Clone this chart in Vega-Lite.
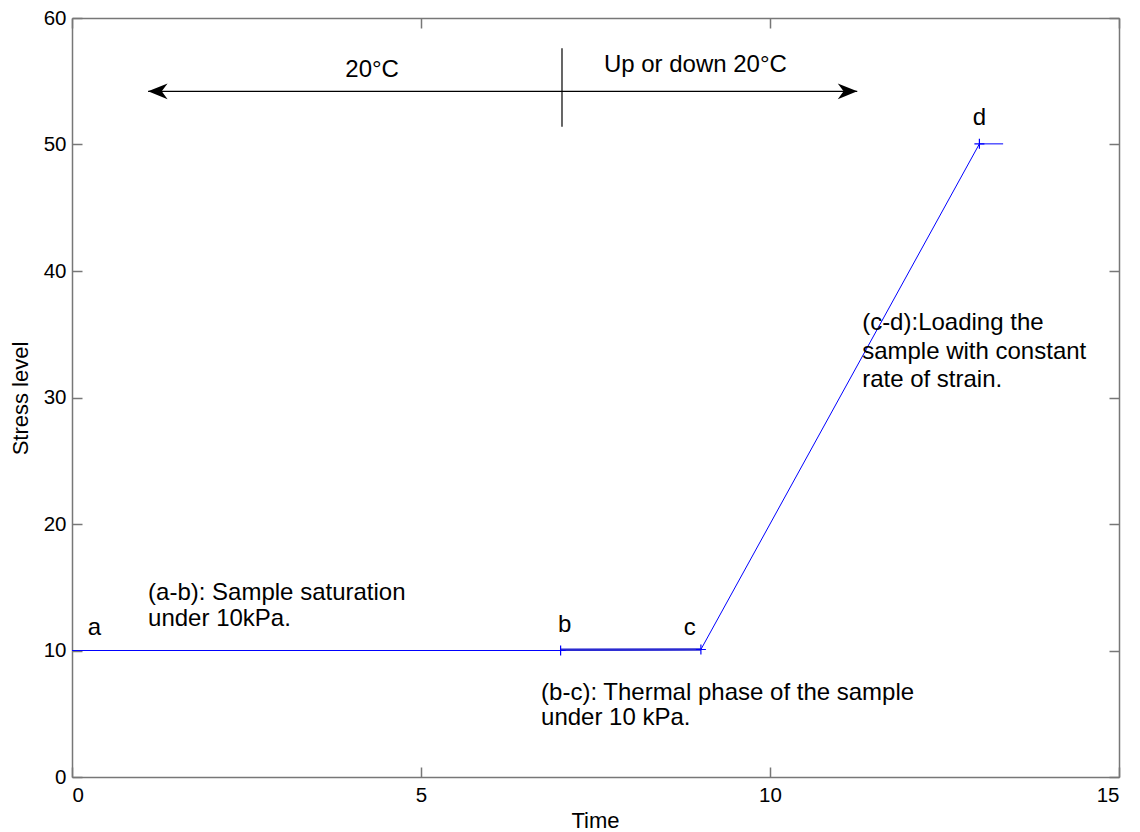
{
  "$schema": "https://vega.github.io/schema/vega-lite/v6.json",
  "autosize": {"type": "none"},
  "width": 1047,
  "height": 759,
  "padding": {"left": 72, "top": 18, "right": 21, "bottom": 55},
  "background": "white",
  "config": {
    "view": {"stroke": null},
    "axis": {
      "domainColor": "#777777",
      "tickColor": "#777777",
      "domainWidth": 1.5,
      "tickWidth": 1.5,
      "tickSize": -10,
      "grid": false,
      "labelFont": "Liberation Sans",
      "labelFontSize": 20.5,
      "labelColor": "black",
      "titleFont": "Liberation Sans",
      "titleFontSize": 22,
      "titleFontWeight": "normal",
      "titleColor": "black"
    },
    "text": {"font": "Liberation Sans", "fontSize": 24, "color": "black"}
  },
  "datasets": {
    "curve": [
      {"t": 0, "s": 10},
      {"t": 7, "s": 10},
      {"t": 9.01, "s": 10.08},
      {"t": 13.0, "s": 50.05},
      {"t": 13.34, "s": 50.05}
    ],
    "thermal": [
      {"t": 7, "s": 10.05},
      {"t": 9.01, "s": 10.08}
    ],
    "markers": [
      {"t": 7, "s": 10},
      {"t": 9.01, "s": 10.08},
      {"t": 13.0, "s": 50.05}
    ],
    "arrow": [{"x1": 1.09, "x2": 11.25, "y": 54.2}],
    "heads": [
      {"x": 1.09, "y": 54.2, "dir": "left"},
      {"x": 11.25, "y": 54.2, "dir": "right"}
    ],
    "divider": [{"x": 7.02, "y1": 51.4, "y2": 57.6}],
    "leftText": [
      {"x": 1.09, "y": 14.55, "label": "(a-b): Sample saturation"},
      {"x": 1.09, "y": 12.5, "label": "under 10kPa."},
      {"x": 6.72, "y": 6.64, "label": "(b-c): Thermal phase of the sample"},
      {"x": 6.72, "y": 4.66, "label": "under 10 kPa."},
      {"x": 11.32, "y": 35.9, "label": "(c-d):Loading the"},
      {"x": 11.32, "y": 33.6, "label": "sample with constant"},
      {"x": 11.32, "y": 31.4, "label": "rate of strain."},
      {"x": 7.62, "y": 56.3, "label": "Up or down 20°C"}
    ],
    "centerText": [
      {"x": 0.32, "y": 11.75, "label": "a"},
      {"x": 7.06, "y": 12.05, "label": "b"},
      {"x": 8.85, "y": 11.75, "label": "c"},
      {"x": 13.0, "y": 52.1, "label": "d"},
      {"x": 4.3, "y": 55.9, "label": "20°C"}
    ]
  },
  "resolve": {"axis": {"x": "independent", "y": "independent"}},
  "layer": [
    {
      "data": {"name": "curve"},
      "mark": {"type": "line", "color": "#0000ff", "strokeWidth": 1},
      "encoding": {
        "x": {"field": "t", "type": "quantitative", "scale": {"domain": [0, 15], "nice": false},
              "axis": {"title": "Time", "values": [0, 5, 10, 15], "labelPadding": 18, "titleX": 523, "titleY": 43, "titleBaseline": "middle"}},
        "y": {"field": "s", "type": "quantitative", "scale": {"domain": [0, 60], "nice": false},
              "axis": {"title": "Stress level", "values": [0, 10, 20, 30, 40, 50, 60], "labelPadding": 16, "titleX": -52, "titleY": 380, "titleBaseline": "middle"}}
      }
    },
    {
      "data": {"name": "thermal"},
      "mark": {"type": "line", "color": "#2a2ad0", "strokeWidth": 2.5},
      "encoding": {
        "x": {"field": "t", "type": "quantitative", "scale": {"domain": [0, 15], "nice": false}, "axis": null},
        "y": {"field": "s", "type": "quantitative", "scale": {"domain": [0, 60], "nice": false}, "axis": null}
      }
    },
    {
      "data": {"name": "markers"},
      "mark": {"type": "point", "shape": "M-1,0L1,0M0,-1L0,1", "filled": false, "color": "#0000ff", "strokeWidth": 1.2, "size": 100, "opacity": 1},
      "encoding": {
        "x": {"field": "t", "type": "quantitative", "scale": {"domain": [0, 15], "nice": false}, "axis": null},
        "y": {"field": "s", "type": "quantitative", "scale": {"domain": [0, 60], "nice": false}, "axis": null}
      }
    },
    {
      "data": {"name": "arrow"},
      "mark": {"type": "rule", "color": "black", "strokeWidth": 1.2},
      "encoding": {
        "x": {"field": "x1", "type": "quantitative", "scale": {"domain": [0, 15], "nice": false},
              "axis": {"orient": "top", "title": null, "labels": false, "values": [0, 5, 10, 15]}},
        "x2": {"field": "x2"},
        "y": {"field": "y", "type": "quantitative", "scale": {"domain": [0, 60], "nice": false}, "axis": null}
      }
    },
    {
      "data": {"name": "heads"},
      "mark": {"type": "point", "filled": true, "color": "black", "size": 380, "opacity": 1},
      "encoding": {
        "x": {"field": "x", "type": "quantitative", "scale": {"domain": [0, 15], "nice": false}, "axis": null},
        "y": {"field": "y", "type": "quantitative", "scale": {"domain": [0, 60], "nice": false}, "axis": null},
        "shape": {"field": "dir", "type": "nominal", "legend": null,
                  "scale": {"domain": ["left", "right"], "range": ["M0,0L2,-0.8L1.4,0L2,0.8Z", "M0,0L-2,-0.8L-1.4,0L-2,0.8Z"]}}
      }
    },
    {
      "data": {"name": "divider"},
      "mark": {"type": "rule", "color": "black", "strokeWidth": 1.2},
      "encoding": {
        "x": {"field": "x", "type": "quantitative", "scale": {"domain": [0, 15], "nice": false}, "axis": null},
        "y": {"field": "y1", "type": "quantitative", "scale": {"domain": [0, 60], "nice": false},
              "axis": {"orient": "right", "title": null, "labels": false, "values": [0, 10, 20, 30, 40, 50, 60]}},
        "y2": {"field": "y2"}
      }
    },
    {
      "data": {"name": "leftText"},
      "mark": {"type": "text", "align": "left", "baseline": "middle"},
      "encoding": {
        "x": {"field": "x", "type": "quantitative", "scale": {"domain": [0, 15], "nice": false}, "axis": null},
        "y": {"field": "y", "type": "quantitative", "scale": {"domain": [0, 60], "nice": false}, "axis": null},
        "text": {"field": "label"}
      }
    },
    {
      "data": {"name": "centerText"},
      "mark": {"type": "text", "align": "center", "baseline": "middle"},
      "encoding": {
        "x": {"field": "x", "type": "quantitative", "scale": {"domain": [0, 15], "nice": false}, "axis": null},
        "y": {"field": "y", "type": "quantitative", "scale": {"domain": [0, 60], "nice": false}, "axis": null},
        "text": {"field": "label"}
      }
    }
  ]
}
